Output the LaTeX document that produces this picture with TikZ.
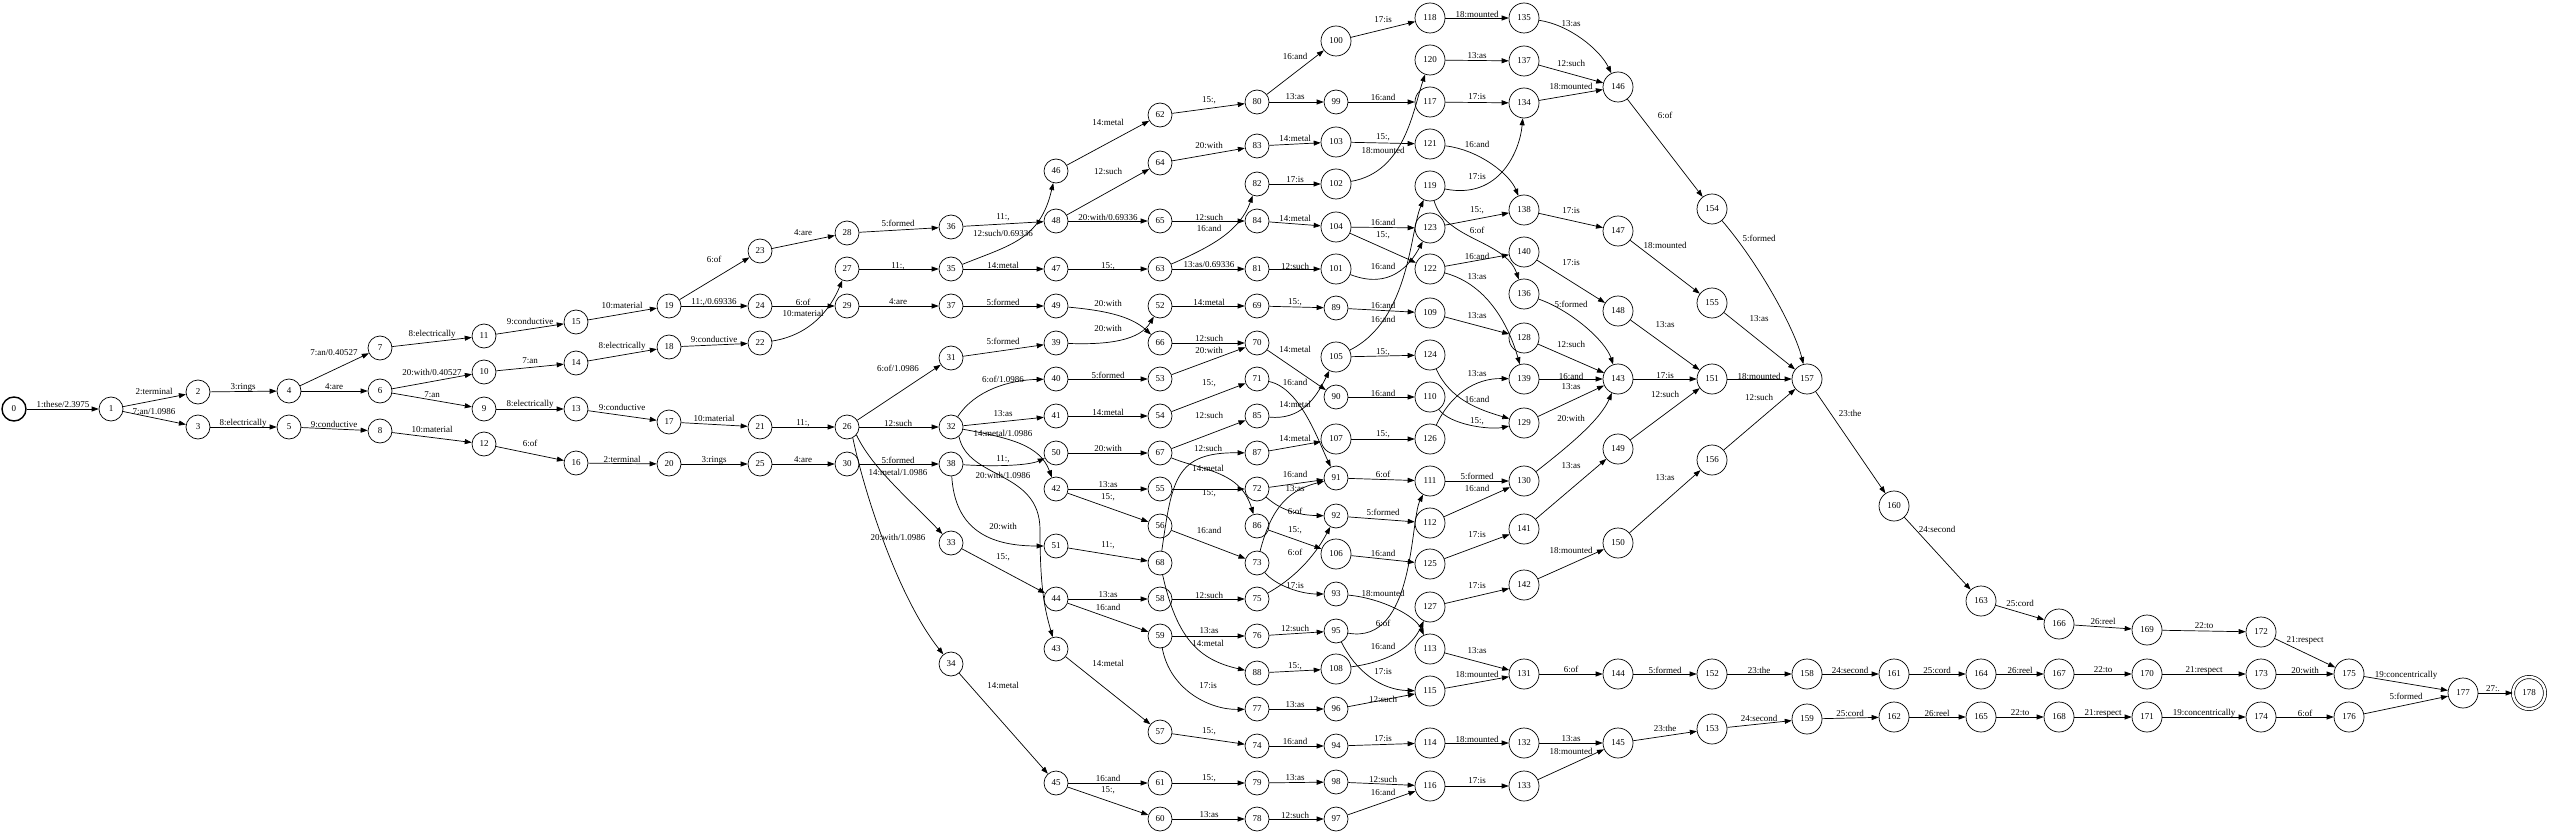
\documentclass[tikz,border=0pt]{standalone}
\usepackage{fontspec}
\setmainfont{Liberation Serif}
\usetikzlibrary{arrows.meta}
\newcommand\lfs{\fontsize{9}{10}\selectfont}
\tikzset{
  st/.style={circle, draw, line width=0.7pt, minimum size=24pt, inner sep=0pt, font=\lfs},
  sw/.style={st, minimum size=30pt},
  lb/.style={inner sep=0pt, font=\lfs},
  ar/.style={-{Triangle[length=7pt,width=5pt]}, line width=0.7pt},
}
\begin{document}
\begin{tikzpicture}[x=1pt,y=-1pt]
\useasboundingbox (0,0) rectangle (2550,834);
\node[st, line width=1.4pt] (n0) at (14,409) {0};
\foreach \n/\x/\y in {1/111/409,2/198/392,3/198/427,4/289/391,5/289/427,6/380/391,7/380/348,8/380/431,
 9/484/409,10/484/372,11/484/336,12/484/444,13/576/409,14/576/363,15/576/322,16/576/463,
 17/669/422,18/669/347,19/669/306,20/669/464,21/760/427,22/760/343,23/760/251,24/760/306,25/760/464,
 26/847/427,27/847/269,28/847/233,29/847/306,30/847/464,
 31/951/358,32/951/427,33/951/543,34/951/664,35/951/269,36/951/227,37/951/306,38/951/464,
 39/1056/343,40/1056/379,41/1056/416,42/1056/489,43/1056/649,44/1056/599,45/1056/783,46/1056/171,
 47/1056/269,48/1056/221,49/1056/306,50/1056/453,51/1056/546,
 52/1160/306,53/1160/379,54/1160/416,55/1160/489,56/1160/526,57/1160/732,58/1160/599,59/1160/636,
 60/1160/819,61/1160/783,62/1160/115,63/1160/269,64/1160/163,65/1160/221,66/1160/343,67/1160/453,68/1160/563,
 69/1257/306,70/1257/343,71/1257/379,72/1257/489,73/1257/563,74/1257/746,75/1257/599,76/1257/636,
 77/1257/709,78/1257/819,79/1257/783,80/1257/102,81/1257/269,82/1257/184,83/1257/146,84/1257/221,
 85/1257/416,86/1257/526,87/1257/453,88/1257/673,
 89/1336/308,90/1336/397,91/1336/478,92/1336/516,93/1336/594,94/1336/746,95/1336/631,96/1336/709,
 97/1336/819,98/1336/782,99/1336/102}
 \node[st] (n\n) at (\x,\y) {\n};
\foreach \n/\x/\y in {100/1336/41,101/1336/269,102/1336/184,103/1336/142,104/1336/227,105/1336/357,
 106/1336/554,107/1336/439,108/1336/669,
 109/1430/313,110/1430/397,111/1430/481,112/1430/523,113/1430/649,114/1430/743,115/1430/691,116/1430/786,
 117/1430/102,118/1430/18,119/1430/186,120/1430/60,121/1430/144,122/1430/269,123/1430/228,124/1430/355,
 125/1430/564,126/1430/439,127/1430/607,
 128/1524/338,129/1524/423,130/1524/481,131/1524/674,132/1524/743,133/1524/786,134/1524/103,135/1524/18,
 136/1524/294,137/1524/61,138/1524/210,139/1524/379,140/1524/252,141/1524/529,142/1524/585,
 143/1618/379,144/1618/674,145/1618/743,146/1618/87,147/1618/231,148/1618/311,149/1618/449,150/1618/543,
 151/1712/379,152/1712/674,153/1712/729,154/1712/209,155/1712/303,156/1712/460,
 157/1807/379,158/1807/674,159/1807/719,160/1894/506,161/1894/674,162/1894/717,
 163/1981/601,164/1981/674,165/1981/717,166/2059/624,167/2059/674,168/2059/717,
 169/2147/630,170/2147/674,171/2147/717,172/2261/632,173/2261/674,174/2261/717,
 175/2349/674,176/2349/717,177/2463/693}
 \node[sw] (n\n) at (\x,\y) {\n};
\node[sw, minimum size=32pt, double, double distance=2.5pt] (n178) at (2529,693) {178};
% straight edges
\foreach \a/\b/\x/\y/\t in {0/1/63/404/{1:these/2.3975},1/2/154/391/{2:terminal},1/3/154/412/{7:an/1.0986},
 2/4/243/387/{3:rings},4/7/334/353/{7:an/0.40527},4/6/334/387/{4:are},3/5/243/423/{8:electrically},
 5/8/334/424/{9:conductive},7/11/432/334/{8:electrically},6/10/432/372/{20:with/0.40527},6/9/432/395/{7:an},
 8/12/432/429/{10:material},11/15/530/321/{9:conductive},10/14/530/361/{7:an},9/13/530/404/{8:electrically},
 12/16/530/443/{6:of},15/19/622/305/{10:material},14/18/622/346/{8:electrically},13/17/622/407/{9:conductive},
 16/20/622/459/{2:terminal},19/23/714/259/{6:of},19/24/714/302/{11:,/0.69336},18/22/714/339/{9:conductive},
 17/21/714/418/{10:material},20/25/714/460/{3:rings},23/28/803/233/{4:are},24/29/803/302/{6:of},
 21/26/803/423/{11:,},25/30/803/460/{4:are},28/36/898/223/{5:formed},27/35/898/266/{11:,},
 29/37/898/302/{4:are},26/31/898/368/{6:of/1.0986},26/32/898/423/{12:such},30/38/898/460/{5:formed},
 36/48/1003/217/{11:,},35/47/1003/265/{14:metal},37/49/1003/302/{5:formed},31/39/1003/341/{5:formed},
 32/41/1003/414/{13:as},33/44/1003/557/{15:,},34/45/1003/685/{14:metal},
 46/62/1108/122/{14:metal},48/64/1108/171/{12:such},48/65/1108/217/{20:with/0.69336},47/63/1108/266/{15:,},
 40/53/1108/375/{5:formed},41/54/1108/412/{14:metal},50/67/1108/448/{20:with},42/55/1108/485/{13:as},
 42/56/1108/497/{15:,},51/68/1108/545/{11:,},44/58/1108/595/{13:as},44/59/1108/607/{16:and},
 43/57/1108/663/{14:metal},45/61/1108/778/{16:and},45/60/1108/790/{15:,},
 62/80/1209/100/{15:,},64/83/1209/145/{20:with},65/84/1209/217/{12:such},63/81/1209/265/{13:as/0.69336},
 52/69/1209/302/{14:metal},66/70/1209/338/{12:such},53/70/1209/350/{20:with},54/71/1209/383/{15:,},
 67/85/1209/415/{12:such},55/72/1209/493/{15:,},56/73/1209/530/{16:and},58/75/1209/595/{12:such},
 59/76/1209/631/{13:as},57/74/1209/731/{15:,},61/79/1209/778/{15:,},60/78/1209/815/{13:as},
 80/100/1295/56/{16:and},80/99/1295/97/{13:as},83/103/1295/138/{14:metal},82/102/1295/180/{17:is},
 84/104/1295/218/{14:metal},81/101/1295/266/{12:such},69/89/1295/302/{15:,},70/90/1295/349/{14:metal},
 87/107/1295/438/{14:metal},72/91/1295/474/{16:and},86/106/1295/530/{15:,},76/95/1295/628/{12:such},
 88/108/1295/666/{15:,},77/96/1295/705/{13:as},74/94/1295/741/{16:and},79/98/1295/778/{13:as},
 78/97/1295/815/{12:such},
 100/118/1383/20/{17:is},99/117/1383/97/{16:and},103/121/1383/137/{15:,},104/123/1383/222/{16:and},
 104/122/1383/235/{15:,},89/109/1383/305/{16:and},105/124/1383/352/{15:,},90/110/1383/393/{16:and},
 107/126/1383/434/{15:,},91/111/1383/474/{6:of},92/112/1383/512/{5:formed},106/125/1383/553/{16:and},
 96/115/1383/699/{12:such},94/114/1383/739/{17:is},98/116/1383/779/{12:such},97/116/1383/792/{16:and},
 118/135/1477/14/{18:mounted},120/137/1477/56/{13:as},117/134/1477/97/{17:is},123/138/1477/210/{15:,},
 122/140/1477/256/{16:and},109/128/1477/316/{13:as},111/130/1477/476/{5:formed},112/130/1477/488/{16:and},
 125/141/1477/535/{17:is},127/142/1477/586/{17:is},113/131/1477/651/{13:as},115/131/1477/674/{18:mounted},
 114/132/1477/739/{18:mounted},116/133/1477/781/{17:is},
 137/146/1571/63/{12:such},134/146/1571/86/{18:mounted},138/147/1571/211/{17:is},140/148/1571/263/{17:is},
 128/143/1571/344/{12:such},139/143/1571/376/{16:and},129/143/1571/387/{13:as},141/149/1571/466/{13:as},
 142/150/1571/550/{18:mounted},131/144/1571/669/{6:of},132/145/1571/739/{13:as},133/145/1571/751/{18:mounted},
 146/154/1665/115/{6:of},147/155/1665/245/{18:mounted},148/151/1665/325/{13:as},143/151/1665/376/{17:is},
 149/151/1665/394/{12:such},150/156/1665/478/{13:as},144/152/1665/670/{5:formed},145/153/1665/728/{23:the},
 155/157/1759/319/{13:as},151/157/1759/376/{18:mounted},156/157/1759/397/{12:such},152/158/1759/670/{23:the},
 153/159/1759/718/{24:second},157/160/1850/413/{23:the},158/161/1850/670/{24:second},159/162/1850/713/{25:cord},
 160/163/1937/529/{24:second},161/164/1937/670/{25:cord},162/165/1937/713/{26:reel},
 163/166/2020/603/{25:cord},164/167/2020/670/{26:reel},165/168/2020/713/{22:to},
 166/169/2103/621/{26:reel},167/170/2103/670/{22:to},168/171/2103/713/{21:respect},
 169/172/2204/626/{22:to},170/173/2204/670/{21:respect},171/174/2204/713/{19:concentrically},
 172/175/2305/640/{21:respect},173/175/2305/670/{20:with},174/176/2305/713/{6:of},
 175/177/2406/675/{19:concentrically},176/177/2406/696/{5:formed},177/178/2493/689/{27:.}}
{
 \draw[ar] (n\a) -- (n\b);
 \node[lb] (l\a-\b) at (\x,\y) {\t};
}
% curved edges
\draw[ar] (n22) .. controls (810,335) and (830,310) .. (n27);
\node[lb] (l22-27) at (803,313) {10:material};
\draw[ar] (n35) .. controls (1010,245) and (1040,240) .. (n46);
\node[lb] (l35-46) at (1003,233) {12:such/0.69336};
\draw[ar] (n63) .. controls (1215,245) and (1240,230) .. (n82);
\node[lb] (l63-82) at (1209,228) {16:and};
\draw[ar] (n49) .. controls (1100,310) and (1130,315) .. (n66);
\node[lb] (l49-66) at (1108,303) {20:with};
\draw[ar] (n39) .. controls (1110,345) and (1140,340) .. (n52);
\node[lb] (l39-52) at (1108,328) {20:with};
\draw[ar] (n32) .. controls (975,390) and (1010,380) .. (n40);
\node[lb] (l32-40) at (1003,379) {6:of/1.0986};
\draw[ar] (n32) .. controls (1010,438) and (1040,445) .. (n42);
\node[lb] (l32-42) at (1003,433) {14:metal/1.0986};
\draw[ar] (n32.-50) .. controls (968,480) and (1040,470) .. (1040,530) .. controls (1040,590) and (1045,610) .. (n43);
\node[lb] (l32-43) at (1003,475) {20:with/1.0986};
\draw[ar] (n38) .. controls (1000,467) and (1030,465) .. (n50);
\node[lb] (l38-50) at (1003,459) {11:,};
\draw[ar] (n38) .. controls (955,530) and (990,546) .. (n51);
\node[lb] (l38-51) at (1003,526) {20:with};
\draw[ar] (n26.-40) .. controls (872,468) and (910,500) .. (n33);
\node[lb] (l26-33) at (898,472) {14:metal/1.0986};
\draw[ar] (n26.-62) .. controls (866,500) and (900,600) .. (n34);
\node[lb] (l26-34) at (898,537) {20:with/1.0986};
\draw[ar] (n67) .. controls (1200,470) and (1240,470) .. (n86);
\node[lb] (l67-86) at (1208,468) {14:metal};
\draw[ar] (n68) .. controls (1172,480) and (1175,452) .. (n87);
\node[lb] (l68-87) at (1208,448) {12:such};
\draw[ar] (n68) .. controls (1177,640) and (1200,660) .. (n88);
\node[lb] (l68-88) at (1208,643) {14:metal};
\draw[ar] (n59) .. controls (1170,690) and (1210,710) .. (n77);
\node[lb] (l59-77) at (1208,686) {17:is};
\draw[ar] (n71) .. controls (1300,388) and (1318,440) .. (n91);
\node[lb] (l71-91) at (1295,382) {16:and};
\draw[ar] (n85) .. controls (1300,420) and (1315,400) .. (n105);
\node[lb] (l85-105) at (1295,404) {14:metal};
\draw[ar] (n72) .. controls (1275,505) and (1290,515) .. (n92);
\node[lb] (l72-92) at (1295,511) {6:of};
\draw[ar] (n73) .. controls (1272,505) and (1290,490) .. (n91);
\node[lb] (l73-91) at (1295,489) {13:as};
\draw[ar] (n75) .. controls (1300,575) and (1318,550) .. (n92);
\node[lb] (l75-92) at (1295,552) {6:of};
\draw[ar] (n73) .. controls (1275,585) and (1300,594) .. (n93);
\node[lb] (l73-93) at (1295,586) {17:is};
\draw[ar] (n102) .. controls (1405,172) and (1413,110) .. (n120);
\node[lb] (l102-120) at (1383,150) {18:mounted};
\draw[ar] (n101) .. controls (1390,290) and (1410,265) .. (n123);
\node[lb] (l101-123) at (1383,266) {16:and};
\draw[ar] (n105) .. controls (1410,320) and (1410,230) .. (n119);
\node[lb] (l105-119) at (1383,319) {16:and};
\draw[ar] (n95) .. controls (1415,645) and (1410,520) .. (n111);
\node[lb] (l95-111) at (1383,623) {6:of};
\draw[ar] (n108) .. controls (1400,660) and (1415,640) .. (n127);
\node[lb] (l108-127) at (1383,646) {16:and};
\draw[ar] (n95) .. controls (1355,670) and (1380,690) .. (n115);
\node[lb] (l95-115) at (1383,672) {17:is};
\draw[ar] (n93) .. controls (1380,598) and (1415,615) .. (n113);
\node[lb] (l93-113) at (1383,593) {18:mounted};
\draw[ar] (n121) .. controls (1480,150) and (1510,175) .. (n138);
\node[lb] (l121-138) at (1477,144) {16:and};
\draw[ar] (n119) .. controls (1500,200) and (1520,150) .. (n134);
\node[lb] (l119-134) at (1477,177) {17:is};
\draw[ar] (n119) .. controls (1445,240) and (1505,240) .. (n136);
\node[lb] (l119-136) at (1477,230) {6:of};
\draw[ar] (n122) .. controls (1490,285) and (1510,330) .. (n139);
\node[lb] (l122-139) at (1477,277) {13:as};
\draw[ar] (n124) .. controls (1450,400) and (1480,410) .. (n129);
\node[lb] (l124-129) at (1477,399) {16:and};
\draw[ar] (n126) .. controls (1450,395) and (1475,378) .. (n139);
\node[lb] (l126-139) at (1477,374) {13:as};
\draw[ar] (n110) .. controls (1450,425) and (1490,430) .. (n129);
\node[lb] (l110-129) at (1477,421) {15:,};
\draw[ar] (n135) .. controls (1570,25) and (1600,50) .. (n146);
\node[lb] (l135-146) at (1571,24) {13:as};
\draw[ar] (n136) .. controls (1570,310) and (1605,340) .. (n143);
\node[lb] (l136-143) at (1571,304) {5:formed};
\draw[ar] (n130) .. controls (1570,445) and (1600,420) .. (n143);
\node[lb] (l130-143) at (1571,418) {20:with};
\draw[ar] (n154) .. controls (1760,265) and (1795,330) .. (n157);
\node[lb] (l154-157) at (1759,238) {5:formed};
\end{tikzpicture}
\end{document}
